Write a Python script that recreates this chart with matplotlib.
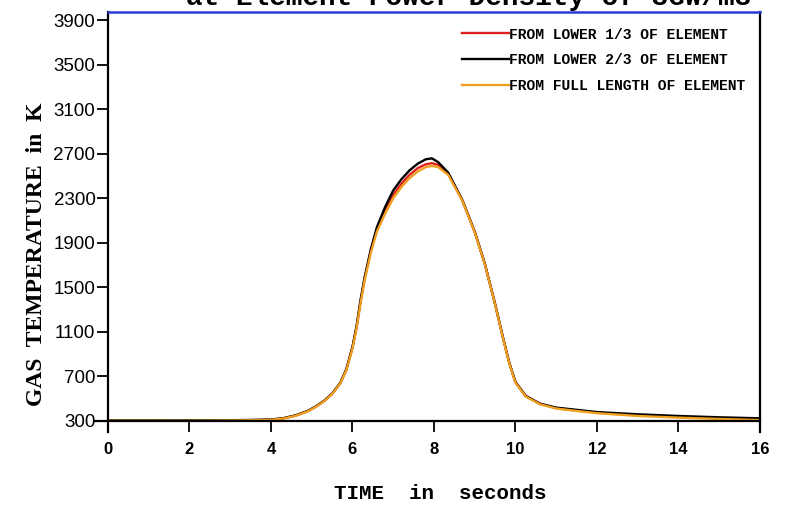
import numpy as np
import matplotlib
matplotlib.use('Agg')
import matplotlib.pyplot as plt

# time in seconds
time = [0, 1, 2, 3, 3.5, 4, 4.3, 4.6, 4.9, 5.1, 5.3, 5.5, 5.7, 5.85, 6.0, 6.1, 6.2, 6.3,
        6.45, 6.6, 6.8, 7.0, 7.2, 7.4, 7.6, 7.8, 7.95, 8.1, 8.35, 8.7, 9.0, 9.25, 9.5,
        9.7, 9.85, 10.0, 10.25, 10.6, 11.0, 11.5, 12.0, 13.0, 14.0, 15.0, 16.0]

# gas temperature (K)
lower_third = [302, 302, 303, 305, 307, 311, 323, 348, 388, 428, 478, 543, 640, 760, 960, 1140,
               1375, 1580, 1830, 2020, 2190, 2330, 2430, 2510, 2570, 2605, 2615, 2600, 2520,
               2280, 2000, 1710, 1350, 1040, 820, 650, 525, 455, 415, 395, 375, 352, 338, 325, 316]
lower_two_thirds = [305, 305, 306, 307, 309, 313, 325, 350, 390, 430, 480, 545, 642, 765, 965,
                    1150, 1390, 1590, 1840, 2040, 2220, 2370, 2470, 2550, 2610, 2650, 2658, 2625,
                    2530, 2280, 2000, 1710, 1350, 1040, 820, 650, 525, 455, 420, 400, 380, 360,
                    345, 333, 324]
full_length = [302, 302, 302, 304, 306, 310, 322, 346, 386, 426, 476, 541, 638, 755, 950, 1130,
               1360, 1565, 1810, 2000, 2160, 2300, 2400, 2480, 2540, 2580, 2590, 2580, 2510,
               2275, 1995, 1705, 1345, 1035, 815, 645, 520, 450, 412, 390, 370, 345, 330, 318, 308]

labels = ['FROM LOWER 1/3 OF ELEMENT', 'FROM LOWER 2/3 OF ELEMENT', 'FROM FULL LENGTH OF ELEMENT']
colors = ['#e02020', 'black', '#f0a020']

xticks = np.arange(0, 17, 2)
yticks = np.arange(300, 4000, 400)

fig = plt.figure(figsize=(7.88, 5.08), dpi=100)
ax = fig.add_axes([0.137, 0.1713, 0.8274, 0.805])

ax.plot(time, lower_third, color=colors[0], lw=1.7, label=labels[0])
ax.plot(time, lower_two_thirds, color=colors[1], lw=1.7, label=labels[1])
ax.plot(time, full_length, color=colors[2], lw=1.7, label=labels[2])

ax.set_xlim(0, 16)
ax.set_ylim(300, 3972)
ax.set_xticks(xticks)
ax.set_yticks(yticks)
ax.set_xticklabels([str(v) for v in xticks], fontfamily='Liberation Sans', fontweight='bold', fontsize=12)
ax.set_yticklabels([str(v) for v in yticks], fontfamily='Liberation Sans', fontsize=13.5)
ax.tick_params(axis='both', direction='out', length=8, width=1.3, color='black')
ax.tick_params(axis='x', pad=7)
ax.tick_params(axis='y', pad=1)

for s in ['left', 'bottom', 'right']:
    ax.spines[s].set_linewidth(1.6)
    ax.spines[s].set_color('black')
ax.spines['top'].set_color('#2a3ad8')
ax.spines['top'].set_linewidth(1.8)
ax.spines['left'].set_bounds(200, 3972)
ax.spines['right'].set_bounds(200, 3972)
ax.spines['bottom'].set_bounds(-0.32, 16)

ax.set_xlabel('TIME  in  seconds', fontfamily='Liberation Mono', fontweight='bold', fontsize=15)
ax.xaxis.set_label_coords(0.509, -0.155)
ax.set_ylabel('GAS  TEMPERATURE  in  K', fontfamily='Liberation Serif', fontweight='bold', fontsize=17)
ax.yaxis.set_label_coords(-0.093, 0.408)

ax.legend(loc='upper left', bbox_to_anchor=(0.532, 0.98), frameon=False, borderpad=0,
          handlelength=3.2, handletextpad=0, labelspacing=0.8,
          prop={'family': 'Liberation Mono', 'weight': 'bold', 'size': 10.5})

fig.text(0.595, 1 - 5 / 508, 'at Element Power Density of 3GW/m3', ha='center', va='baseline',
         fontfamily='Liberation Mono', fontweight='bold', fontsize=20)

fig.savefig('out.png', dpi=100)
